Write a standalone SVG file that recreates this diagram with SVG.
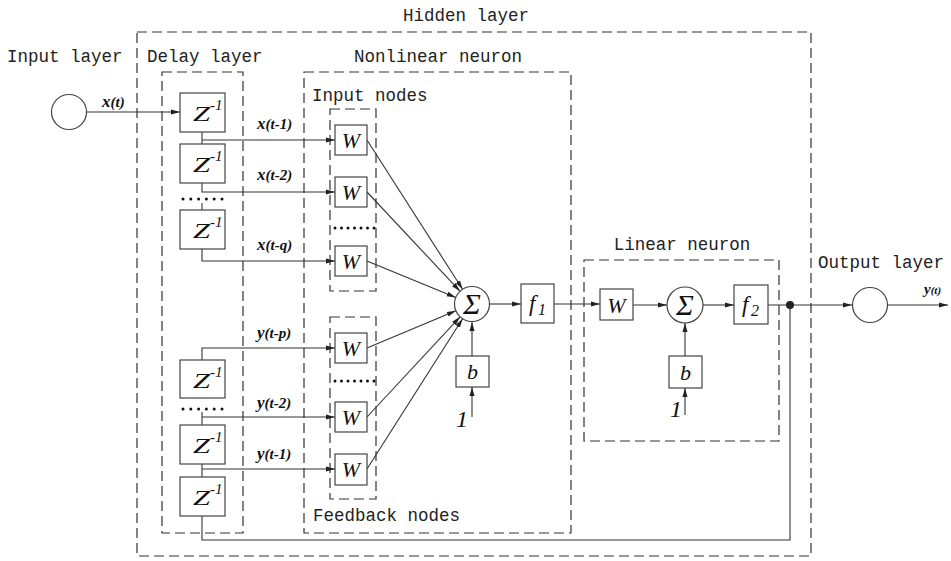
<svg xmlns="http://www.w3.org/2000/svg" width="951" height="561" viewBox="0 0 951 561">
<defs>
<marker id="ah" markerUnits="userSpaceOnUse" markerWidth="9" markerHeight="6" refX="9" refY="3" orient="auto">
<path d="M0,0.5 L9,3 L0,5.5 z" fill="#222"/>
</marker>
<style>
.dash{fill:none;stroke:#333;stroke-width:1.2;stroke-dasharray:10 5}
.box{fill:#fff;stroke:#444;stroke-width:1.2}
.ln{fill:none;stroke:#333;stroke-width:1.1}
.arr{fill:none;stroke:#333;stroke-width:1.1;marker-end:url(#ah)}
.lbl{font-family:"Liberation Mono","DejaVu Sans Mono",monospace;font-size:17.5px;fill:#222}
.m{font-family:"Liberation Serif","Times New Roman",serif;font-style:italic;fill:#111}
.dot{fill:#111}
</style>
</defs>
<rect width="951" height="561" fill="#fff"/>

<g id="containers">
<g id="hidden-layer"><rect class="dash" x="137" y="32" width="674" height="524"/><text class="lbl" x="466" y="21" text-anchor="middle">Hidden layer</text></g>
<g id="delay-layer"><rect class="dash" x="162" y="72" width="81" height="461"/><text class="lbl" x="147" y="62">Delay layer</text></g>
<g id="nonlinear-neuron"><rect class="dash" x="304" y="72" width="267" height="461"/><text class="lbl" x="438" y="62" text-anchor="middle">Nonlinear neuron</text></g>
<g id="input-nodes"><rect class="dash" x="330" y="109" width="46" height="182"/><text class="lbl" x="312" y="101">Input nodes</text></g>
<g id="feedback-nodes"><rect class="dash" x="330" y="317" width="46" height="182"/><text class="lbl" x="313" y="521">Feedback nodes</text></g>
<g id="linear-neuron"><rect class="dash" x="584" y="260" width="195" height="181"/><text class="lbl" x="682" y="250" text-anchor="middle">Linear neuron</text></g>
<text class="lbl" x="7" y="62">Input layer</text>
<text class="lbl" x="818" y="268">Output layer</text>
</g>

<g id="connectors">
<line class="arr" x1="87" y1="112" x2="180" y2="112"/>
<line class="ln" x1="202" y1="132" x2="202" y2="144"/>
<polyline class="arr" points="202,140 335,140"/>
<polyline class="arr" points="202,183 202,192 335,192"/>
<line class="ln" x1="202" y1="203" x2="202" y2="210"/>
<polyline class="arr" points="202,249 202,261 335,261"/>
<polyline class="arr" points="202,360 202,348 335,348"/>
<line class="ln" x1="202" y1="412" x2="202" y2="425"/>
<line class="arr" x1="202" y1="417" x2="335" y2="417"/>
<line class="ln" x1="202" y1="464" x2="202" y2="477"/>
<line class="arr" x1="202" y1="469" x2="335" y2="469"/>
<polyline class="ln" points="202,516 202,540 790,540 790,305" stroke="#555"/>
<line class="arr" x1="367" y1="140" x2="462.6" y2="289.3"/>
<line class="arr" x1="367" y1="192" x2="460.0" y2="291.2"/>
<line class="arr" x1="367" y1="261" x2="455.8" y2="297.4"/>
<line class="arr" x1="367" y1="348" x2="455.9" y2="310.8"/>
<line class="arr" x1="367" y1="417" x2="460.1" y2="316.8"/>
<line class="arr" x1="367" y1="469" x2="462.6" y2="318.8"/>
<line class="arr" x1="472" y1="356" x2="472" y2="322"/>
<line class="arr" x1="472" y1="417" x2="472" y2="387"/>
<line class="arr" x1="489.5" y1="304" x2="521" y2="304"/>
<line class="arr" x1="554" y1="304" x2="600" y2="304"/>
<line class="arr" x1="633" y1="305" x2="667" y2="305"/>
<line class="arr" x1="685" y1="356" x2="685" y2="323"/>
<line class="arr" x1="685" y1="415" x2="685" y2="388"/>
<line class="arr" x1="703" y1="305" x2="734" y2="305"/>
<line class="arr" x1="768" y1="305" x2="852" y2="305"/>
<line class="arr" x1="888" y1="305" x2="948" y2="305"/>
<g class="m" font-size="15" font-weight="bold">
<text x="102" y="107"><tspan font-size="17">x</tspan>(t)</text>
<text x="257" y="129"><tspan font-size="17">x</tspan>(t-1)</text>
<text x="257" y="180"><tspan font-size="17">x</tspan>(t-2)</text>
<text x="257" y="250"><tspan font-size="17">x</tspan>(t-q)</text>
<text x="257" y="338"><tspan font-size="17">y</tspan>(t-p)</text>
<text x="257" y="408"><tspan font-size="17">y</tspan>(t-2)</text>
<text x="257" y="459"><tspan font-size="17">y</tspan>(t-1)</text>
<text x="924" y="294" font-size="11"><tspan font-size="15">y</tspan>(t)</text>
</g>
<g id="delay-dots">
<circle class="dot" cx="183" cy="199" r="1.5"/><circle class="dot" cx="190.8" cy="199" r="1.5"/><circle class="dot" cx="198.6" cy="199" r="1.5"/><circle class="dot" cx="206.4" cy="199" r="1.5"/><circle class="dot" cx="214.2" cy="199" r="1.5"/><circle class="dot" cx="222" cy="199" r="1.5"/>
<circle class="dot" cx="183" cy="409" r="1.5"/><circle class="dot" cx="190.8" cy="409" r="1.5"/><circle class="dot" cx="198.6" cy="409" r="1.5"/><circle class="dot" cx="206.4" cy="409" r="1.5"/><circle class="dot" cx="214.2" cy="409" r="1.5"/><circle class="dot" cx="222" cy="409" r="1.5"/>
<circle class="dot" cx="335" cy="228" r="1.5"/><circle class="dot" cx="341.5" cy="228" r="1.5"/><circle class="dot" cx="348" cy="228" r="1.5"/><circle class="dot" cx="354.5" cy="228" r="1.5"/><circle class="dot" cx="361" cy="228" r="1.5"/><circle class="dot" cx="367.5" cy="228" r="1.5"/><circle class="dot" cx="374" cy="228" r="1.5"/>
<circle class="dot" cx="335" cy="381" r="1.5"/><circle class="dot" cx="341.5" cy="381" r="1.5"/><circle class="dot" cx="348" cy="381" r="1.5"/><circle class="dot" cx="354.5" cy="381" r="1.5"/><circle class="dot" cx="361" cy="381" r="1.5"/><circle class="dot" cx="367.5" cy="381" r="1.5"/><circle class="dot" cx="374" cy="381" r="1.5"/>
</g>
</g>

<g id="input-node"><circle cx="69" cy="112" r="17.5" fill="#fff" stroke="#444" stroke-width="1.2"/></g>

<g id="z1"><rect class="box" x="180" y="93" width="45" height="39"/><text class="m" x="193" y="121" font-size="21" textLength="17" lengthAdjust="spacingAndGlyphs">Z</text><text class="m" x="210" y="110" font-size="15">-1</text></g>
<g id="z2"><rect class="box" x="180" y="144" width="45" height="39"/><text class="m" x="193" y="172" font-size="21" textLength="17" lengthAdjust="spacingAndGlyphs">Z</text><text class="m" x="210" y="161" font-size="15">-1</text></g>
<g id="z3"><rect class="box" x="180" y="210" width="45" height="39"/><text class="m" x="193" y="238" font-size="21" textLength="17" lengthAdjust="spacingAndGlyphs">Z</text><text class="m" x="210" y="227" font-size="15">-1</text></g>
<g id="z4"><rect class="box" x="180" y="360" width="45" height="38"/><text class="m" x="193" y="388" font-size="21" textLength="17" lengthAdjust="spacingAndGlyphs">Z</text><text class="m" x="210" y="377" font-size="15">-1</text></g>
<g id="z5"><rect class="box" x="180" y="425" width="45" height="39"/><text class="m" x="193" y="453" font-size="21" textLength="17" lengthAdjust="spacingAndGlyphs">Z</text><text class="m" x="210" y="442" font-size="15">-1</text></g>
<g id="z6"><rect class="box" x="180" y="477" width="45" height="39"/><text class="m" x="193" y="505" font-size="21" textLength="17" lengthAdjust="spacingAndGlyphs">Z</text><text class="m" x="210" y="494" font-size="15">-1</text></g>

<g id="w1"><rect class="box" x="335" y="125" width="32" height="30"/><text class="m" x="351" y="148" font-size="22" text-anchor="middle">W</text></g>
<g id="w2"><rect class="box" x="335" y="177" width="32" height="30"/><text class="m" x="351" y="200" font-size="22" text-anchor="middle">W</text></g>
<g id="w3"><rect class="box" x="335" y="246" width="32" height="30"/><text class="m" x="351" y="269" font-size="22" text-anchor="middle">W</text></g>
<g id="w4"><rect class="box" x="335" y="333" width="32" height="30"/><text class="m" x="351" y="356" font-size="22" text-anchor="middle">W</text></g>
<g id="w5"><rect class="box" x="335" y="402" width="32" height="30"/><text class="m" x="351" y="425" font-size="22" text-anchor="middle">W</text></g>
<g id="w6"><rect class="box" x="335" y="454" width="32" height="31"/><text class="m" x="351" y="477" font-size="22" text-anchor="middle">W</text></g>

<g id="sum1"><circle cx="472" cy="304" r="17.5" fill="#fff" stroke="#444" stroke-width="1.2"/><text class="m" x="472" y="314" font-size="30" text-anchor="middle">Σ</text></g>
<g id="b1"><rect class="box" x="456" y="356" width="33" height="31"/><text class="m" x="472.5" y="379" font-size="22" text-anchor="middle">b</text><text class="m" x="462" y="427" font-size="24" text-anchor="middle">1</text></g>
<g id="f1"><rect class="box" x="521" y="284" width="33" height="39"/><text class="m" x="529" y="311" font-size="23">f</text><text class="m" x="538" y="315" font-size="16">1</text></g>

<g id="w7"><rect class="box" x="600" y="289" width="33" height="31"/><text class="m" x="616.5" y="313" font-size="22" text-anchor="middle">W</text></g>
<g id="sum2"><circle cx="685" cy="305" r="18" fill="#fff" stroke="#444" stroke-width="1.2"/><text class="m" x="685" y="315" font-size="30" text-anchor="middle">Σ</text></g>
<g id="b2"><rect class="box" x="669" y="356" width="33" height="32"/><text class="m" x="685.5" y="380" font-size="22" text-anchor="middle">b</text><text class="m" x="676" y="417" font-size="24" text-anchor="middle">1</text></g>
<g id="f2"><rect class="box" x="734" y="285" width="34" height="39"/><text class="m" x="742" y="312" font-size="23">f</text><text class="m" x="751" y="316" font-size="16">2</text></g>
<g id="junction"><circle cx="790" cy="305" r="4" fill="#222"/></g>
<g id="output-node"><circle cx="870" cy="305" r="17.5" fill="#fff" stroke="#444" stroke-width="1.2"/></g>
</svg>
